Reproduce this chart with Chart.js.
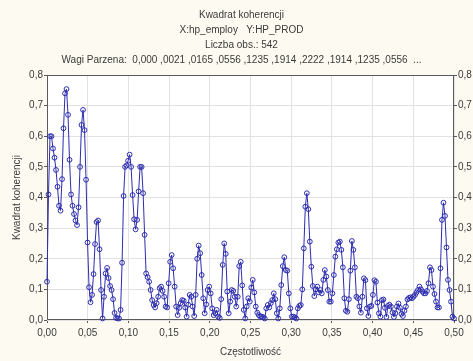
<!DOCTYPE html>
<html>
<head>
<meta charset="utf-8">
<script src="https://cdn.jsdelivr.net/npm/chart.js@4"></script>
<style>
  html, body { margin: 0; padding: 0; background: #fcfaf1; }
  #coherence-chart { display: block; }
</style>
</head>
<body>
<canvas id="coherence-chart" width="473" height="361"></canvas>
<script>
// number of observations, frequency of sample i is i / nObs (0 .. 0.5)
const nObs = 542;

const titleLines = [
  'Kwadrat koherencji',
  'X:hp_employ   Y:HP_PROD',
  'Liczba obs.: 542',
  'Wagi Parzena:  0,000 ,0021 ,0165 ,0556 ,1235 ,1914 ,2222 ,1914 ,1235 ,0556  ...'
];
const xTitle = 'Częstotliwość';
const yTitle = 'Kwadrat koherencji';

// squared coherency, one value per frequency
const coherence = [
  0.125, 0.41, 0.60, 0.60, 0.56, 0.53, 0.49, 0.435, 0.373, 0.357,
  0.46, 0.626, 0.74, 0.754, 0.67, 0.523, 0.41, 0.373, 0.346, 0.325,
  0.31, 0.368, 0.50, 0.637, 0.686, 0.62, 0.458, 0.253, 0.107, 0.058,
  0.082, 0.15, 0.248, 0.32, 0.325, 0.231, 0.098, 0.005, 0.076, 0.152,
  0.17, 0.137, 0.111, 0.098, 0.068, 0.023, 0.007, 0.005, 0.005, 0.033,
  0.187, 0.405, 0.50, 0.505, 0.52, 0.54, 0.50, 0.408, 0.329, 0.296,
  0.327, 0.42, 0.50, 0.50, 0.414, 0.278, 0.152, 0.14, 0.125, 0.098,
  0.065, 0.049, 0.041, 0.055, 0.076, 0.104, 0.109, 0.095, 0.076, 0.044,
  0.041, 0.12, 0.19, 0.212, 0.169, 0.109, 0.044, 0.016, 0.04, 0.055,
  0.065, 0.063, 0.041, 0.011, 0.05, 0.082, 0.076, 0.044, 0.013, 0.082,
  0.20, 0.243, 0.218, 0.147, 0.071, 0.022, 0.051, 0.098, 0.109, 0.087,
  0.038, 0.016, 0.022, 0.033, 0.011, 0.007, 0.068, 0.18, 0.25, 0.216,
  0.093, 0.022, 0.06, 0.098, 0.095, 0.076, 0.044, 0.076, 0.176, 0.19,
  0.113, 0.033, 0.005, 0.044, 0.071, 0.06, 0.106, 0.131, 0.09, 0.044,
  0.024, 0.016, 0.011, 0.011, 0.009, 0.005, 0.038, 0.049, 0.041, 0.055,
  0.065, 0.087, 0.068, 0.022, 0.005, 0.038, 0.114, 0.176, 0.205, 0.163,
  0.161, 0.087, 0.038, 0.011, 0.011, 0.009, 0.005, 0.038, 0.046, 0.049,
  0.10, 0.234, 0.37, 0.414, 0.362, 0.256, 0.174, 0.111, 0.078, 0.10,
  0.109, 0.09, 0.098, 0.087, 0.131, 0.163, 0.142, 0.098, 0.06, 0.06,
  0.087, 0.147, 0.207, 0.231, 0.253, 0.256, 0.229, 0.172, 0.071, 0.03,
  0.027, 0.068, 0.161, 0.258, 0.229, 0.172, 0.076, 0.071, 0.044, 0.024,
  0.076, 0.136, 0.13, 0.038, 0.013, 0.044, 0.046, 0.082, 0.13, 0.125,
  0.057, 0.022, 0.011, 0.065, 0.067, 0.04, 0.01, 0.046, 0.05, 0.044,
  0.025, 0.01, 0.022, 0.044, 0.054, 0.04, 0.02, 0.013, 0.03, 0.044,
  0.067, 0.072, 0.074, 0.071, 0.076, 0.082, 0.09, 0.098, 0.109, 0.10,
  0.093, 0.087, 0.087, 0.095, 0.12, 0.172, 0.163, 0.109, 0.085, 0.06,
  0.041, 0.041, 0.169, 0.327, 0.383, 0.34, 0.237, 0.131, 0.098, 0.06,
  0.011, 0.005
];

const points = coherence.map((v, i) => ({ x: i / nObs, y: v }));

const font = { family: "'Liberation Sans', Arial, sans-serif", size: 10 };
const textColor = '#3a3a3a';
const lineColor = 'rgb(45, 45, 175)';

const comma = (v, d) => Number(v).toFixed(d).replace('.', ',');

// cream page, white plot area, dark frame round the plot
const frame = {
  id: 'frame',
  beforeDraw(chart) {
    const { ctx, chartArea: a } = chart;
    ctx.save();
    ctx.fillStyle = '#fcfaf1';
    ctx.fillRect(0, 0, chart.width, chart.height);
    ctx.fillStyle = '#ffffff';
    ctx.fillRect(a.left, a.top, a.right - a.left, a.bottom - a.top);
    ctx.restore();
  },
  beforeDatasetsDraw(chart) {
    const { ctx, chartArea: a } = chart;
    ctx.save();
    ctx.strokeStyle = '#5a5a5a';
    ctx.lineWidth = 1;
    ctx.strokeRect(Math.round(a.left) + 0.5, Math.round(a.top) + 0.5,
      Math.round(a.right - a.left) - 1, Math.round(a.bottom - a.top) - 1);
    ctx.restore();
  }
};

const config = {
  type: 'line',
  data: {
    datasets: [{
      label: yTitle,
      data: points,
      borderColor: lineColor,
      borderWidth: 1,
      pointRadius: 2.4,
      pointBorderWidth: 1,
      pointBorderColor: lineColor,
      pointBackgroundColor: 'rgba(255, 255, 255, 0)',
      tension: 0,
      clip: false
    }]
  },
  options: {
    responsive: false,
    animation: false,
    devicePixelRatio: 1,
    layout: { padding: { left: 10, right: 0, top: 0, bottom: 0 } },
    plugins: {
      legend: { display: false },
      tooltip: { enabled: false },
      title: {
        display: true,
        text: titleLines,
        color: textColor,
        font: { ...font, weight: 'normal', lineHeight: 1.5 },
        padding: { top: 8, bottom: 7 }
      }
    },
    scales: {
      x: {
        type: 'linear',
        min: 0,
        max: 0.5,
        border: { display: false },
        grid: { color: '#e2e2e2', tickLength: 3, tickColor: '#5a5a5a' },
        ticks: {
          stepSize: 0.05,
          autoSkip: false,
          maxRotation: 0,
          padding: 4,
          color: textColor,
          font: font,
          callback: v => comma(v, 2)
        },
        title: { display: true, text: xTitle, color: textColor, font: font, padding: { top: 0, bottom: 3 } },
        afterFit: s => { s.height = 41; }
      },
      y: {
        position: 'left',
        min: 0,
        max: 0.8,
        border: { display: false },
        grid: { color: '#e2e2e2', tickLength: 3, tickColor: '#5a5a5a' },
        ticks: { stepSize: 0.1, padding: 1, color: textColor, font: font, callback: v => comma(v, 1) },
        title: { display: true, text: yTitle, color: textColor, font: font, padding: { top: 1, bottom: 0 } },
        afterFit: s => { s.width = 37; }
      },
      y2: {
        position: 'right',
        min: 0,
        max: 0.8,
        border: { display: false },
        grid: { drawOnChartArea: false, tickLength: 3, tickColor: '#5a5a5a' },
        ticks: { stepSize: 0.1, padding: 1, color: textColor, font: font, callback: v => comma(v, 1) },
        afterFit: s => { s.width = 19; }
      }
    }
  },
  plugins: [frame]
};

const coherenceChart = new Chart(document.getElementById('coherence-chart'), config);
</script>
</body>
</html>
